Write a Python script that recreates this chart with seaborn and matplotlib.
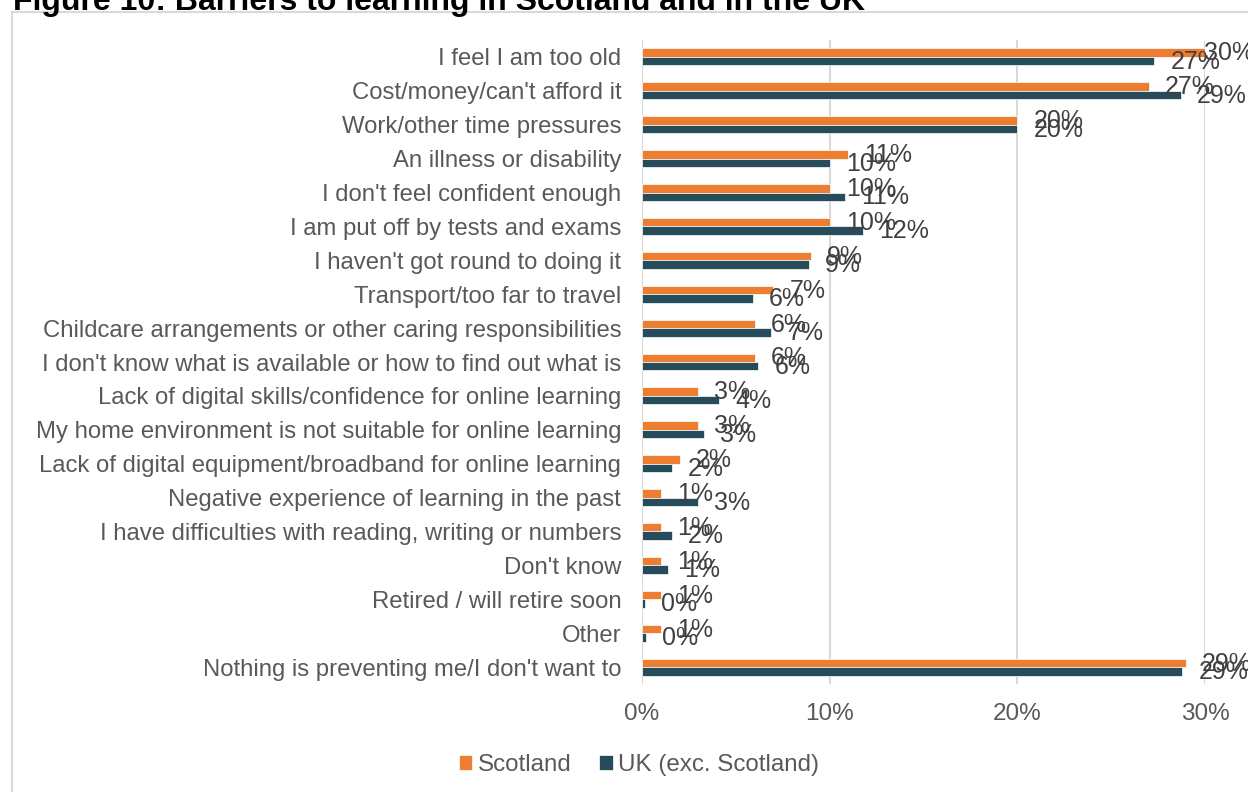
import matplotlib
matplotlib.use("Agg")
import matplotlib.pyplot as plt
from matplotlib.patches import Rectangle
import seaborn as sns
import pandas as pd

# Survey results: share of respondents citing each barrier (%)
categories = [
    "I feel I am too old",
    "Cost/money/can't afford it",
    "Work/other time pressures",
    "An illness or disability",
    "I don't feel confident enough",
    "I am put off by tests and exams",
    "I haven't got round to doing it",
    "Transport/too far to travel",
    "Childcare arrangements or other caring responsibilities",
    "I don't know what is available or how to find out what is",
    "Lack of digital skills/confidence for online learning",
    "My home environment is not suitable for online learning",
    "Lack of digital equipment/broadband for online learning",
    "Negative experience of learning in the past",
    "I have difficulties with reading, writing or numbers",
    "Don't know",
    "Retired / will retire soon",
    "Other",
    "Nothing is preventing me/I don't want to",
]
scotland = [30.0, 27.0, 20.0, 11.0, 10.0, 10.0, 9.0, 7.0, 6.0, 6.0,
            3.0, 3.0, 2.0, 1.0, 1.0, 1.0, 1.0, 1.0, 29.0]
uk_exc_scotland = [27.3, 28.7, 20.0, 10.0, 10.8, 11.8, 8.9, 5.9, 6.9, 6.2,
                   4.1, 3.3, 1.6, 3.0, 1.6, 1.4, 0.15, 0.2, 28.8]
series_names = ["Scotland", "UK (exc. Scotland)"]
x_ticks = [0, 10, 20, 30]
title = "Figure 10: Barriers to learning in Scotland and in the UK"

df = pd.concat([
    pd.DataFrame({"barrier": categories, "value": scotland, "group": series_names[0]}),
    pd.DataFrame({"barrier": categories, "value": uk_exc_scotland, "group": series_names[1]}),
], ignore_index=True)

sns.set_theme(style="white")
plt.rcParams["font.family"] = ["Liberation Sans", "DejaVu Sans"]

W, H = 1248, 792
fig = plt.figure(figsize=(W / 100, H / 100), dpi=100)
ax = fig.add_axes([642 / W, 1 - 684 / H, (1205 - 642) / W, (684 - 40) / H])

palette = {"Scotland": "#ED7D31", "UK (exc. Scotland)": "#264B5A"}
sns.barplot(data=df, y="barrier", x="value", hue="group", order=categories,
            hue_order=series_names, palette=palette, orient="h",
            width=0.5, gap=0, dodge=True, saturation=1,
            edgecolor="white", linewidth=0.5, ax=ax, legend=True)

ax.set_xlim(0, 30)
ax.set_xticks(x_ticks)
ax.set_xticklabels([f"{t}%" for t in x_ticks])
ax.set_xlabel("")
ax.set_ylabel("")
for s in ax.spines.values():
    s.set_visible(False)
ax.grid(axis="x", color="#D9D9D9", linewidth=1.5)
ax.grid(axis="y", visible=False)
ax.set_axisbelow(True)
ax.tick_params(axis="y", length=0, pad=15, labelsize=17.2, labelcolor="#595959")
ax.tick_params(axis="x", length=0, pad=14, labelsize=17.5, labelcolor="#595959")

# Value labels at the end of each bar
label_cap = 29.1
for container, vals in zip(ax.containers, [scotland, uk_exc_scotland]):
    for bar, v in zip(container, vals):
        yc = bar.get_y() + bar.get_height() / 2
        ax.annotate(f"{round(v):.0f}%", xy=(min(v, label_cap), yc),
                    xytext=(11.5, -0.5), textcoords="offset points",
                    ha="left", va="center", fontsize=18, color="#404040",
                    annotation_clip=False)

leg = ax.legend(loc="center", bbox_to_anchor=(639 / W, 1 - 765 / H),
                bbox_transform=fig.transFigure, ncol=2, frameon=False,
                fontsize=17.4, handlelength=0.55, handleheight=0.55,
                handletextpad=0.22, columnspacing=1.15)
for t in leg.get_texts():
    t.set_color("#595959")

# Chart frame and heading
fig.patches.append(Rectangle((12 / W, -0.05), 1.1, 1 - 12 / H + 0.05,
                             transform=fig.transFigure, fill=False,
                             edgecolor="#D9D9D9", linewidth=1.5))
fig.text(13 / W, 1 - 10 / H, title, ha="left", va="baseline",
         fontsize=23, fontweight="bold", color="#000000")

fig.savefig("out.png", dpi=100)
